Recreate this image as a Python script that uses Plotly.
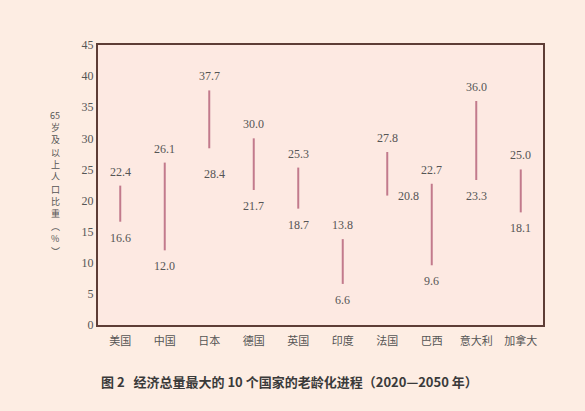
import plotly.graph_objects as go

countries = ["美国", "中国", "日本", "德国", "英国", "印度", "法国", "巴西", "意大利", "加拿大"]
val_2020 = [16.6, 12.0, 28.4, 21.7, 18.7, 6.6, 20.8, 9.6, 23.3, 18.1]
val_2050 = [22.4, 26.1, 37.7, 30.0, 25.3, 13.8, 27.8, 22.7, 36.0, 25.0]
y_ticks = [0, 5, 10, 15, 20, 25, 30, 35, 40, 45]
y_title_chars = ["65", "岁", "及", "以", "上", "人", "口", "比", "重", "︵", "%", "︶"]
caption = "图 2   经济总量最大的 10 个国家的老龄化进程（2020—2050 年）"

LINE = "#c27a8c"
TXT = "#555555"
SERIF = "Liberation Serif, Times New Roman, serif"
CJK = "Noto Sans CJK SC"

W, H = 585, 411
L, R, T, B = 98, W - 543, 45, H - 325
pw, ph = W - L - R, H - T - B


def px_to_paper(x, y):
    return (x - L) / pw, (H - B - y) / ph


fig = go.Figure()
for i, c in enumerate(countries):
    fig.add_trace(go.Scatter(
        x=[c, c], y=[val_2020[i], val_2050[i]], mode="lines",
        line=dict(color=LINE, width=2), showlegend=False, hoverinfo="skip"))

annotations = []
lab_font = dict(family=SERIF, size=12, color=TXT)
for i, c in enumerate(countries):
    annotations.append(dict(x=c, y=val_2050[i], text=f"{val_2050[i]:.1f}",
                            showarrow=False, yshift=14, xref="x", yref="y", font=lab_font))
    if c == "法国":
        xs, ys = 21, 0
    elif c == "日本":
        xs, ys = 5, -26
    else:
        xs, ys = 0, -16
    annotations.append(dict(x=c, y=val_2020[i], text=f"{val_2020[i]:.1f}",
                            showarrow=False, xshift=xs, yshift=ys, xref="x", yref="y",
                            font=lab_font))

# upright vertical y-axis title, one character per annotation
n = len(y_title_chars)
top_y, bot_y = 115, 251
for k, ch in enumerate(y_title_chars):
    yy = top_y + (bot_y - top_y) * k / (n - 1)
    px, py = px_to_paper(55, yy)
    annotations.append(dict(x=px, y=py, xref="paper", yref="paper", text=ch,
                            showarrow=False, xanchor="center", yanchor="middle",
                            font=dict(family=CJK, size=9, color=TXT)))

cx, cy = px_to_paper(289, 381)
annotations.append(dict(text="<b>" + caption + "</b>", x=cx, y=cy, xref="paper", yref="paper",
                        showarrow=False, xanchor="center", yanchor="middle",
                        font=dict(family=CJK, size=13, color="#3a3a3a")))

fig.update_layout(
    width=W, height=H,
    margin=dict(l=L, r=R, t=T, b=B, pad=0),
    paper_bgcolor="#fdede3",
    plot_bgcolor="#fde9e2",
    annotations=annotations,
    xaxis=dict(type="category", range=[-0.5, 9.5], showgrid=False, ticks="",
               showline=True, linecolor="#5e3d36", linewidth=2, mirror=True,
               ticklabelstandoff=5,
               tickfont=dict(family=CJK, size=11, color=TXT), zeroline=False),
    yaxis=dict(range=[0, 45], tickvals=y_ticks, showgrid=False, ticks="",
               showline=True, linecolor="#5e3d36", linewidth=2, mirror=True,
               tickfont=dict(family=SERIF, size=12, color=TXT), zeroline=False),
)
fig.write_html("out.html")
